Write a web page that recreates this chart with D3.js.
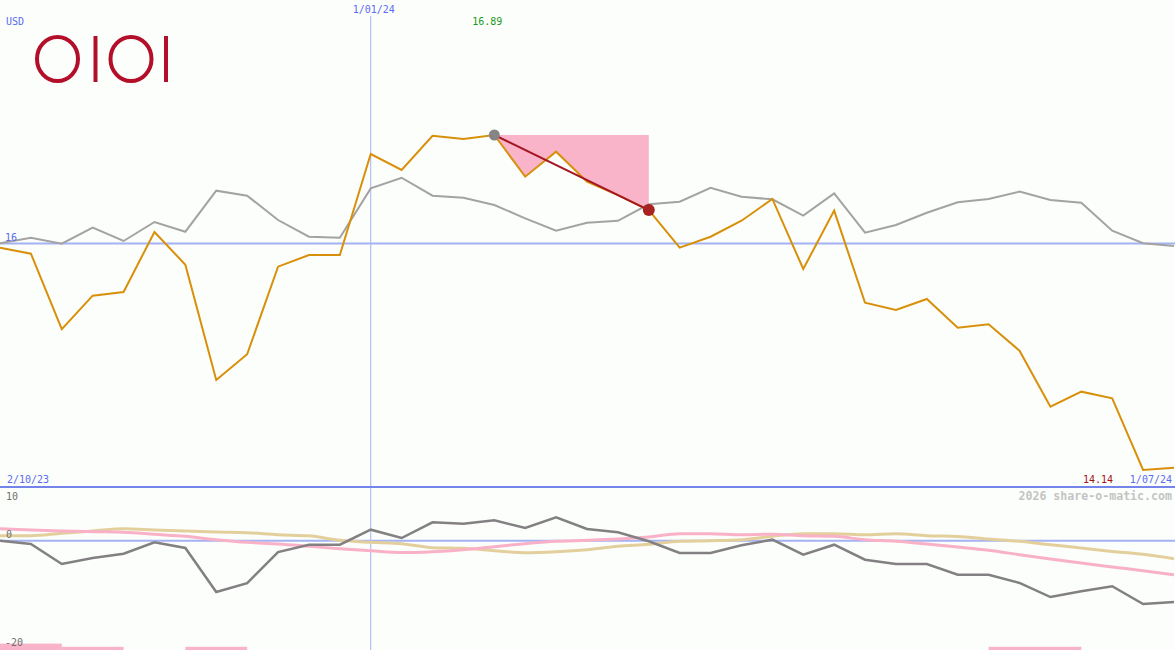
<!DOCTYPE html>
<html>
<head>
<meta charset="utf-8">
<script src="https://cdn.jsdelivr.net/npm/d3@7"></script>
<style>
  html, body { margin: 0; padding: 0; background: #fcfefb; }
  svg { display: block; }
  text { font-family: "DejaVu Sans Mono", monospace; font-size: 10px; }
</style>
</head>
<body>
<svg id="chart"></svg>
<script>
// weekly closes, 2/10/23 .. 1/07/24
var dates = ['2/10/23', '1/01/24', '1/07/24'];
var price = [15.965, 15.916, 15.297, 15.571, 15.601, 16.094, 15.825, 14.879, 15.09, 15.809,
  15.905, 15.905, 16.734, 16.603, 16.884, 16.857, 16.89, 16.548, 16.753, 16.507,
  16.397, 16.274, 15.965, 16.055, 16.186, 16.365, 15.79, 16.269, 15.513, 15.453,
  15.544, 15.308, 15.336, 15.119, 14.66, 14.783, 14.729, 14.14, 14.159];
// benchmark, rebased to the same scale
var bench = [16.001, 16.047, 15.998, 16.129, 16.02, 16.176, 16.096, 16.433, 16.392, 16.192,
  16.055, 16.047, 16.452, 16.539, 16.392, 16.375, 16.315, 16.206, 16.104, 16.17,
  16.186, 16.321, 16.342, 16.457, 16.383, 16.362, 16.228, 16.411, 16.088, 16.151,
  16.252, 16.338, 16.365, 16.425, 16.356, 16.334, 16.104, 16.001, 15.979];
// lower panel: relative performance (%) and two smoothed lines
var relPerf = [0, -0.61, -4.31, -3.2, -2.41, -0.3, -1.35, -9.5, -7.85, -2.1,
  -0.74, -0.74, 2.04, 0.5, 3.4, 3.15, 3.78, 2.35, 4.33, 2.17,
  1.55, -0.11, -2.28, -2.28, -0.85, 0.19, -2.59, -0.74, -3.52, -4.31,
  -4.31, -6.3, -6.3, -7.83, -10.43, -9.37, -8.44, -11.72, -11.35];
var pinkLine = [2.22, 1.98, 1.8, 1.67, 1.55, 1.18, 0.81, 0.19, -0.3, -0.61,
  -1.04, -1.48, -1.85, -2.2, -2.04, -1.67, -1.11, -0.56, -0.11, 0.07,
  0.31, 0.69, 1.3, 1.3, 1.11, 1.2, 0.93, 0.81, 0.19, -0.11,
  -0.61, -1.17, -1.78, -2.59, -3.39, -4.13, -4.87, -5.56, -6.3];
var tanLine = [0.93, 0.93, 1.4, 1.8, 2.2, 2.0, 1.8, 1.6, 1.48, 1.11,
  0.9, 0.07, -0.3, -0.56, -1.3, -1.42, -1.85, -2.22, -2.04, -1.67,
  -1.04, -0.67, -0.11, 0.0, 0.19, 0.81, 1.3, 1.3, 1.11, 1.3,
  0.93, 0.8, 0.31, -0.11, -0.74, -1.35, -1.98, -2.53, -3.33];
// bottom strip bars (start index, end index, value)
var barFrom = [0, 2, 6, 32];
var barTo = [2, 4, 8, 35];
var barVal = [2, 1, 1, 1];
var lowerTicks = [10, 0, -20];
var maxIdx = 16, ddIdx = 21, minIdx = 37, jan1Idx = 12;

var W = 1175, H = 650;
var svg = d3.select('#chart').attr('width', W).attr('height', H);

var x = d3.scaleLinear().domain([0, price.length - 1]).range([0, 1174]);
var y = d3.scaleLinear().domain([d3.min(price), d3.max(price)]).range([470, 135]);
var y2 = d3.scaleLinear().domain([-20, 10]).range([648.7, 486.7]);
var hb = d3.scaleLinear().domain([0, 1]).range([0, 3.2]);

var blue = '#5b6cf0', lightBlue = '#a4b2f4';

// drawdown shading between the high and the price line
var area = d3.area()
  .x(function(d) { return x(d); })
  .y0(y(price[maxIdx]))
  .y1(function(d) { return y(price[d]); });
svg.append('path')
  .datum(d3.range(maxIdx, ddIdx + 1))
  .attr('d', area)
  .attr('fill', '#f9b4c9');

// reference lines
svg.append('line')
  .attr('x1', x(jan1Idx)).attr('x2', x(jan1Idx))
  .attr('y1', 16).attr('y2', H)
  .attr('stroke', lightBlue).attr('stroke-width', 1);
svg.append('line')
  .attr('x1', 0).attr('x2', W)
  .attr('y1', y(16)).attr('y2', y(16))
  .attr('stroke', lightBlue).attr('stroke-width', 2);
svg.append('line')
  .attr('x1', 0).attr('x2', W)
  .attr('y1', 487).attr('y2', 487)
  .attr('stroke', '#7484ea').attr('stroke-width', 2);
svg.append('line')
  .attr('x1', 0).attr('x2', W)
  .attr('y1', y2(0)).attr('y2', y2(0))
  .attr('stroke', lightBlue).attr('stroke-width', 2);

// main lines
var line = d3.line()
  .x(function(d, i) { return x(i); })
  .y(function(d) { return y(d); });
svg.append('path').datum(bench).attr('d', line)
  .attr('fill', 'none').attr('stroke', '#a3a3a3').attr('stroke-width', 2);
svg.append('path').datum(price).attr('d', line)
  .attr('fill', 'none').attr('stroke', '#d8900a').attr('stroke-width', 2);

// drawdown line + markers
svg.append('line')
  .attr('x1', x(maxIdx)).attr('y1', y(price[maxIdx]))
  .attr('x2', x(ddIdx)).attr('y2', y(price[ddIdx]))
  .attr('stroke', '#a51624').attr('stroke-width', 2);
svg.append('circle')
  .attr('cx', x(maxIdx)).attr('cy', y(price[maxIdx])).attr('r', 5.5)
  .attr('fill', '#858585');
svg.append('circle')
  .attr('cx', x(ddIdx)).attr('cy', y(price[ddIdx])).attr('r', 6)
  .attr('fill', '#a82222');

// lower panel
var line2 = d3.line()
  .x(function(d, i) { return x(i); })
  .y(function(d) { return y2(d); })
  .curve(d3.curveMonotoneX);
svg.append('path').datum(tanLine).attr('d', line2)
  .attr('fill', 'none').attr('stroke', '#e3cf9c').attr('stroke-width', 3);
svg.append('path').datum(pinkLine).attr('d', line2)
  .attr('fill', 'none').attr('stroke', '#f9b1c8').attr('stroke-width', 3);
svg.append('path').datum(relPerf).attr('d', line2.curve(d3.curveLinear))
  .attr('fill', 'none').attr('stroke', '#828082').attr('stroke-width', 2.5);

svg.selectAll('rect.bar')
  .data(barVal)
  .enter().append('rect')
  .attr('class', 'bar')
  .attr('x', function(d, i) { return x(barFrom[i]); })
  .attr('width', function(d, i) { return x(barTo[i]) - x(barFrom[i]); })
  .attr('y', function(d) { return H - hb(d); })
  .attr('height', function(d) { return hb(d); })
  .attr('fill', '#f9b4c9');

// logo (OIOI)
var logo = svg.append('g').attr('fill', 'none').attr('stroke', '#b30f2b').attr('stroke-width', 4);
logo.append('ellipse').attr('cx', 57.5).attr('cy', 59).attr('rx', 20.5).attr('ry', 22);
logo.append('line').attr('x1', 95.5).attr('x2', 95.5).attr('y1', 36).attr('y2', 82);
logo.append('ellipse').attr('cx', 131).attr('cy', 59).attr('rx', 20.5).attr('ry', 22);
logo.append('line').attr('x1', 166).attr('x2', 166).attr('y1', 36).attr('y2', 82);
logo.append('title').text('OIOI');

// labels
svg.append('text').attr('x', 6).attr('y', 25).attr('fill', blue).text('USD');
svg.append('text').attr('x', x(jan1Idx) + 3).attr('y', 13).attr('text-anchor', 'middle')
  .attr('fill', blue).text(dates[1]);
svg.append('text').attr('x', x(maxIdx) - 7).attr('y', 25).attr('text-anchor', 'middle')
  .attr('fill', '#1a9a1a').text(d3.format('.2f')(price[maxIdx]));
svg.append('text').attr('x', 5).attr('y', y(16) - 2).attr('fill', blue).text('16');
svg.append('text').attr('x', 7).attr('y', 483).attr('fill', blue).text(dates[0]);
svg.append('text').attr('x', 1113).attr('y', 483).attr('text-anchor', 'end')
  .attr('fill', '#a31515').text(d3.format('.2f')(price[minIdx]));
svg.append('text').attr('x', 1172).attr('y', 483).attr('text-anchor', 'end')
  .attr('fill', blue).text(dates[2]);
svg.append('text').attr('x', 1172).attr('y', 500).attr('text-anchor', 'end')
  .attr('fill', '#c4c4c4').style('font-size', '11.6px').style('font-weight', 'bold')
  .text('2026 share-o-matic.com');

svg.selectAll('text.tick')
  .data(lowerTicks)
  .enter().append('text')
  .attr('class', 'tick')
  .attr('x', function(d) { return d < 0 ? 5 : 6; })
  .attr('y', function(d) { return d === 10 ? 500 : y2(d) - 3; })
  .attr('fill', '#707070')
  .text(function(d) { return d; });
</script>
</body>
</html>
